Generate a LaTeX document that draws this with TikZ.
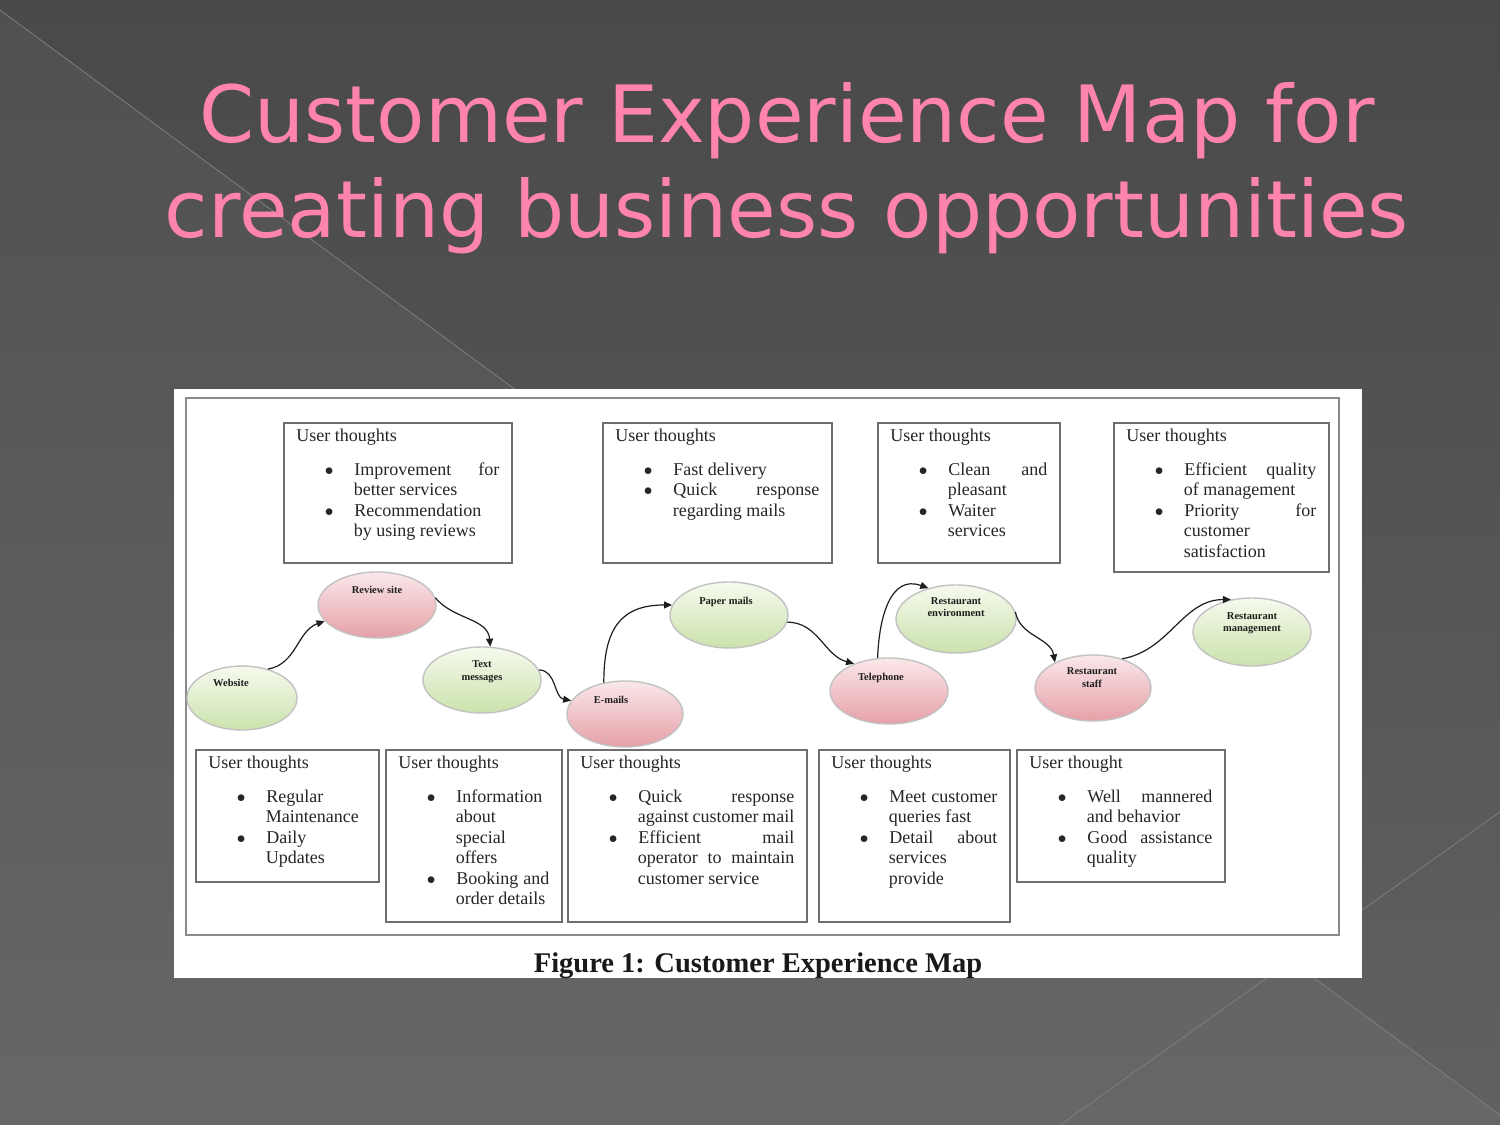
\documentclass[tikz,border=0pt]{standalone}
\usepackage{fontspec}
\setmainfont{Liberation Serif}
\newfontfamily\titlefont{DejaVu Sans}
\usepackage{xcolor}
\usetikzlibrary{arrows.meta,shapes.geometric}

\definecolor{bgtop}{HTML}{494949}
\definecolor{bgbot}{HTML}{616161}
\definecolor{bgline}{HTML}{7E7E7E}
\definecolor{titlepink}{HTML}{FF84AC}
\definecolor{framec}{HTML}{8A8A8A}
\definecolor{boxline}{HTML}{6E6E6E}
\definecolor{boxtext}{HTML}{262626}
\definecolor{ovalline}{HTML}{C2C2C2}
\definecolor{pinktop}{HTML}{FAE8EA}
\definecolor{pinkbot}{HTML}{E5A0A7}
\definecolor{greentop}{HTML}{F6FAEE}
\definecolor{greenbot}{HTML}{CBE2AC}
\definecolor{flowc}{HTML}{1E1E1E}

% box text: width, height, heading, items
\newcommand{\ut}[4]{\parbox[t][#2pt][t]{#1pt}{\sloppy\hyphenpenalty=10000 #3\par\vspace{13.5pt}%
  \begin{list}{$\bullet$}{\setlength\leftmargin{57.5pt}\setlength\labelwidth{8pt}%
    \setlength\labelsep{21pt}\setlength\itemsep{0pt}\setlength\parsep{0pt}%
    \setlength\topsep{0pt}\setlength\partopsep{0pt}}#4\end{list}}}
% oval text: doubled x offset, raise, lines
\newcommand{\etx}[3]{\makebox[0pt]{\raisebox{#2}[0pt][0pt]{\hspace*{#1}\begin{tabular}{@{}c@{}}#3\end{tabular}}}}

\begin{document}
\begin{tikzpicture}[x=1pt,y=1pt,
  tbox/.style={draw=boxline,line width=1.6pt,fill=white,anchor=north west,inner xsep=12.5pt,inner ysep=6pt,text=boxtext,font=\fontsize{18}{20.5}\selectfont},
  stop/.style={ellipse,draw=ovalline,line width=1.4pt,minimum width=118pt,minimum height=66pt,inner sep=0pt,text=flowc,font=\bfseries\fontsize{10.5}{12.5}\selectfont},
  pinkstop/.style={stop,top color=pinktop,bottom color=pinkbot},
  greenstop/.style={stop,top color=greentop,bottom color=greenbot},
  flow/.style={-{Triangle[length=8pt,width=7pt]},line width=1.2pt,draw=flowc}
]
\useasboundingbox (0,0) rectangle (1500,-1125);
\shade[top color=bgtop,bottom color=bgbot] (0,0) rectangle (1500,-1125);
\fill[white,opacity=0.04] (0,-10) -- (1500,-1115) -- (1500,-1125) -- (0,-1125) -- cycle;
\draw[bgline,line width=0.8pt] (0,-10) -- (1500,-1115);
\draw[bgline,line width=0.8pt] (1060,-1125) -- (1500,-812);

\node[font=\titlefont\fontsize{79}{95}\selectfont,text=titlepink,align=center,anchor=north,inner sep=0pt] (title) at (787,-82) {Customer Experience Map for\\creating business opportunities};

\fill[white] (174,-389) rectangle (1362,-978);
\draw[framec,line width=2.5pt] (186,-398) rectangle (1339,-935);

\node[tbox] (ut1) at (283,-422) {\ut{203}{128}{User thoughts}{\item Improvement for\linebreak better services \item Recommendation\linebreak by using reviews}};
\node[tbox] (ut2) at (602,-422) {\ut{204}{128}{User thoughts}{\item Fast delivery \item Quick response\linebreak regarding mails}};
\node[tbox] (ut3) at (877,-422) {\ut{157}{128}{User thoughts}{\item Clean and\linebreak pleasant \item Waiter\linebreak services}};
\node[tbox] (ut4) at (1113,-422) {\ut{190}{137}{User thoughts}{\item Efficient quality\linebreak of management \item Priority for\linebreak customer\linebreak satisfaction}};

\node[tbox] (ut5) at (195,-749) {\ut{158}{120}{User thoughts}{\item Regular\linebreak Maintenance \item Daily\linebreak Updates}};
\node[tbox] (ut6) at (385,-749) {\ut{151}{160}{User thoughts}{\item Information\linebreak about\linebreak special\linebreak offers \item Booking and\linebreak order details}};
\node[tbox] (ut7) at (567,-749) {\ut{214}{160}{User thoughts}{\item Quick response\linebreak against customer mail \item Efficient mail\linebreak operator to maintain\linebreak customer service}};
\node[tbox] (ut8) at (818,-749) {\ut{166}{160}{User thoughts}{\item Meet customer\linebreak queries fast \item Detail about\linebreak services\linebreak provide}};
\node[tbox] (ut9) at (1016,-749) {\ut{183}{120}{User thought}{\item Well mannered\linebreak and behavior \item Good assistance\linebreak quality}};

\node[greenstop,minimum width=110pt,minimum height=64pt] (web) at (242,-698) {\etx{-22pt}{11.4pt}{Website}};
\node[pinkstop] (rev) at (377,-605) {\etx{0pt}{11.4pt}{Review site}};
\node[greenstop] (txt) at (482,-680) {\etx{0pt}{6pt}{Text\\messages}};
\node[pinkstop,minimum width=116pt] (eml) at (625,-714) {\etx{-28pt}{10.4pt}{E-mails}};
\node[greenstop] (pap) at (729,-615) {\etx{-6pt}{10.4pt}{Paper mails}};
\node[pinkstop] (tel) at (889,-691) {\etx{-16pt}{10.4pt}{Telephone}};
\node[greenstop,minimum width=120pt,minimum height=68pt] (env) at (956,-619) {\etx{0pt}{8.5pt}{Restaurant\\environment}};
\node[pinkstop,minimum width=116pt] (stf) at (1093,-688) {\etx{-2pt}{7pt}{Restaurant\\staff}};
\node[greenstop,minimum height=68pt] (mgt) at (1252,-632) {\etx{0pt}{6.5pt}{Restaurant\\management}};

\draw[flow] (web.48) to[out=10,in=200] (rev.197);
\draw[flow] (rev.7) to[out=-50,in=95] (txt.76);
\draw[flow] (txt.10) to[out=0,in=170] (eml.166);
\draw[flow] (eml.124) to[out=90,in=180,looseness=1.3] (pap.170);
\draw[flow] (pap.-7) to[out=0,in=165] (tel.142);
\draw[flow] (tel.109) to[out=88,in=160,looseness=1.2] (env.132);
\draw[flow] (env.7) to[out=-80,in=100] (stf.146);
\draw[flow] (stf.45) to[out=10,in=180] (mgt.123);

\node[font=\bfseries\fontsize{28.5}{32}\selectfont,text=black!90] (cap) at (758,-966) {Figure 1: Customer Experience Map};
\end{tikzpicture}
\end{document}
